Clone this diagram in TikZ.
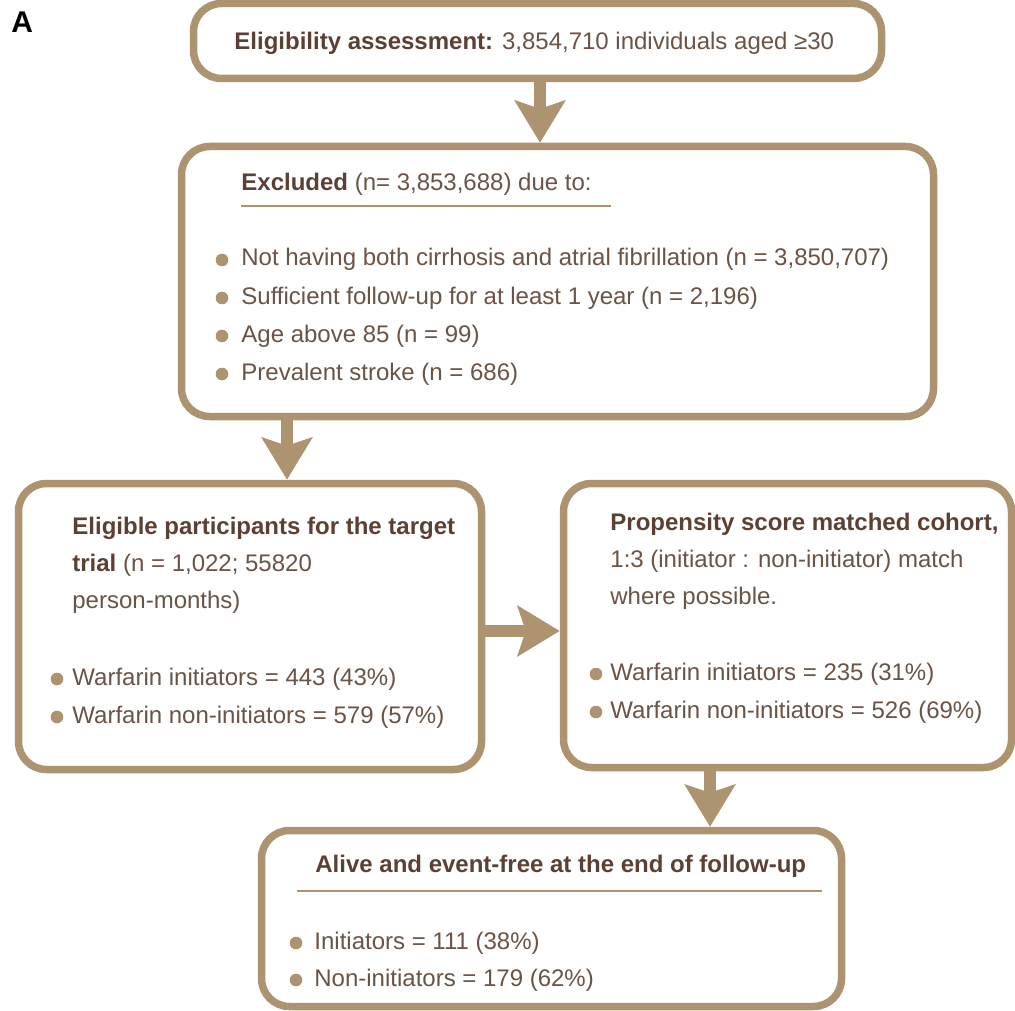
\documentclass[tikz,border=0pt]{standalone}
\usepackage{fontspec}
\setmainfont{Liberation Sans}
\usepackage{tikz}
\usetikzlibrary{arrows.meta}
\usepackage{xcolor}
\definecolor{sand}{HTML}{AD9370}
\definecolor{cocoa}{HTML}{6B5346}
\definecolor{cocoadark}{HTML}{5C4033}

\begin{document}
\begin{tikzpicture}[x=0.5pt, y=-0.5pt,
    flowBox/.style={rectangle, rounded corners=14pt, draw=sand, line width=3.75pt, fill=white, inner sep=0pt},
    bodyText/.style={anchor=base west, inner sep=0pt, font=\fontsize{12}{14}\selectfont, text=cocoa},
    headText/.style={bodyText, font=\fontsize{12}{14}\selectfont\bfseries, text=cocoadark},
    dotMark/.style={circle, fill=sand, inner sep=0pt, minimum size=6.3pt},
    ruleLine/.style={draw=sand, line width=1.1pt},
    flowArrow/.style={draw=sand, line width=6pt, -{Stealth[length=21pt, width=25pt, inset=4pt]}}
]
    \useasboundingbox (0,0) rectangle (1015,1010);

    % Panel label
    \node[font=\fontsize{15}{18}\selectfont\bfseries, anchor=base west, inner sep=0pt] (panelA) at (11,33) {A};

    % Boxes
    \node[flowBox, minimum width=344pt, minimum height=37.5pt] (b1) at (537.5, 41) {};
    \node[flowBox, minimum width=376pt, minimum height=135pt] (b2) at (557.5, 281.5) {};
    \node[flowBox, minimum width=231.5pt, minimum height=143pt] (b3) at (250, 626.5) {};
    \node[flowBox, minimum width=224pt, minimum height=142pt] (b4) at (787.5, 625.5) {};
    \node[flowBox, minimum width=290pt, minimum height=88pt] (b5) at (551.5, 918.5) {};

    % Box 1: eligibility
    \node[bodyText] (t1) at (234,50) {\textbf{\color{cocoadark}Eligibility assessment:} 3,854,710 individuals aged ≥30};

    % Box 2: exclusions
    \node[bodyText] (ex) at (241,191) {\textbf{\color{cocoadark}Excluded} (n= 3,853,688) due to:};
    \coordinate (ex0) at (241,206);
    \coordinate (ex9) at (611,206);
    \draw[ruleLine] (ex0) -- (ex9);
    \node[dotMark] (d21) at (222,260) {};
    \node[bodyText] (ex1) at (241,266) {Not having both cirrhosis and atrial fibrillation (n = 3,850,707)};
    \node[dotMark] (d22) at (222,298) {};
    \node[bodyText] (ex2) at (241,304) {Sufficient follow-up for at least 1 year (n = 2,196)};
    \node[dotMark] (d23) at (222,336) {};
    \node[bodyText] (ex3) at (241,342) {Age above 85 (n = 99)};
    \node[dotMark] (d24) at (222,374) {};
    \node[bodyText] (ex4) at (241,380) {Prevalent stroke (n = 686)};

    % Box 3: eligible participants
    \node[headText] (el1) at (72,534) {Eligible participants for the target};
    \node[bodyText] (el2) at (72,571) {\textbf{\color{cocoadark}trial} (n = 1,022; 55820};
    \node[bodyText] (el3) at (72,608) {person-months)};
    \node[dotMark] (d31) at (57,679) {};
    \node[bodyText] (el4) at (72,685) {Warfarin initiators = 443 (43\%)};
    \node[dotMark] (d32) at (57,717) {};
    \node[bodyText] (el5) at (72,723) {Warfarin non-initiators = 579 (57\%)};

    % Box 4: matched cohort
    \node[headText] (ps1) at (610,530) {Propensity score matched cohort,};
    \node[bodyText] (ps2) at (610,567) {1:3 (initiator : non-initiator) match};
    \node[bodyText] (ps3) at (610,604) {where possible.};
    \node[dotMark] (d41) at (596,674) {};
    \node[bodyText] (ps4) at (610,680) {Warfarin initiators = 235 (31\%)};
    \node[dotMark] (d42) at (596,712) {};
    \node[bodyText] (ps5) at (610,718) {Warfarin non-initiators = 526 (69\%)};

    % Box 5: end of follow-up
    \node[headText] (al) at (315,872) {Alive and event-free at the end of follow-up};
    \coordinate (al0) at (297,891);
    \coordinate (al9) at (822,891);
    \draw[ruleLine] (al0) -- (al9);
    \node[dotMark] (d51) at (296,943) {};
    \node[bodyText] (al1) at (314,949) {Initiators = 111 (38\%)};
    \node[dotMark] (d52) at (296,980) {};
    \node[bodyText] (al2) at (314,986) {Non-initiators = 179 (62\%)};

    % Flow arrows
    \coordinate (c1) at (540,0);
    \coordinate (c2) at (287,0);
    \coordinate (c3) at (0,631);
    \coordinate (c4) at (710,0);
    \draw[flowArrow] (b1.south -| c1) -- (b2.north -| c1);
    \draw[flowArrow] (b2.south -| c2) -- (b3.north -| c2);
    \draw[flowArrow] (b3.east |- c3) -- (b4.west |- c3);
    \draw[flowArrow] (b4.south -| c4) -- (b5.north -| c4);
\end{tikzpicture}
\end{document}
